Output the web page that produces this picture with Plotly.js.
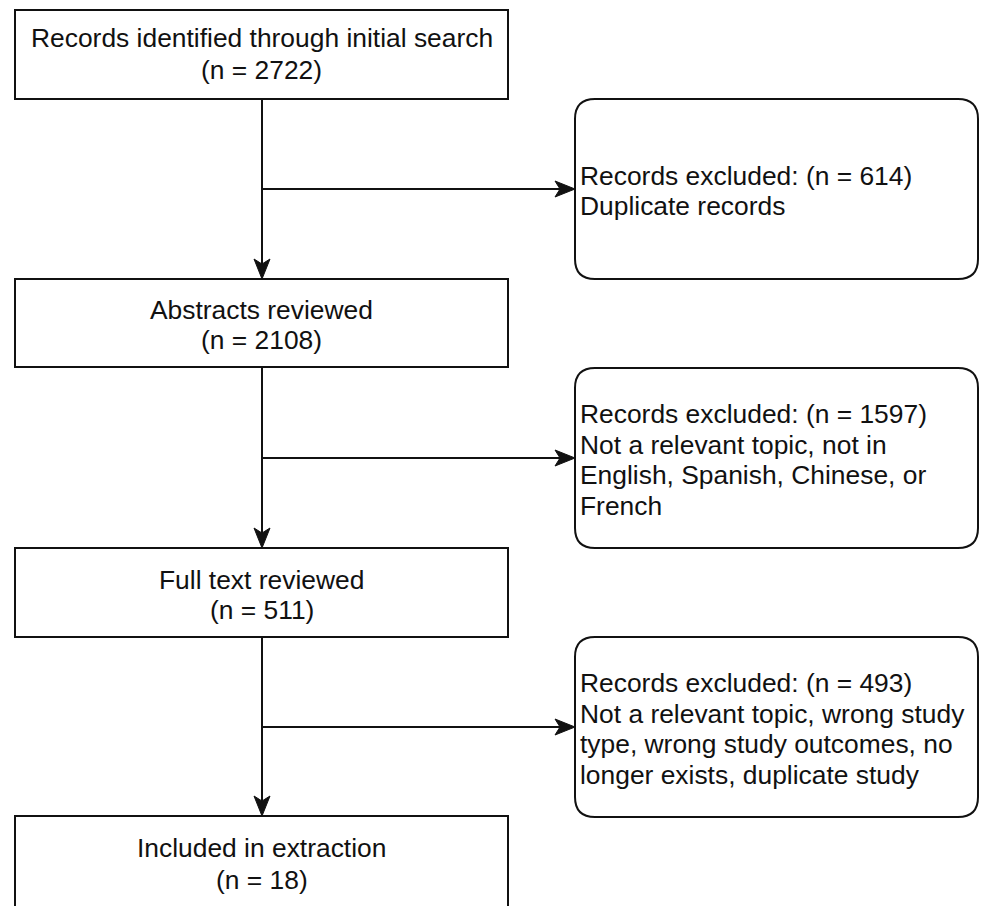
<!DOCTYPE html>
<html>
<head>
<meta charset="utf-8">
<script src="https://cdn.plot.ly/plotly-3.0.1.min.js"></script>
<style>html,body{margin:0;padding:0;background:#fff;}#chart{width:982px;height:906px;}</style>
</head>
<body>
<div id="chart"></div>
<script>
// ---- data ----
const stageLabels = ["Records identified through initial search", "Abstracts reviewed", "Full text reviewed", "Included in extraction"];
const stageCounts = [2722, 2108, 511, 18];
const excludedCounts = [614, 1597, 493];
const excludedReasons = [
  ["Duplicate records"],
  ["Not a relevant topic, not in", "English, Spanish, Chinese, or", "French"],
  ["Not a relevant topic, wrong study", "type, wrong study outcomes, no", "longer exists, duplicate study"]
];

// ---- layout geometry (pixels, y downward) ----
const W = 982, H = 906;
const leftBox = {x0: 15, x1: 508};
const stageY = [[10, 99], [279, 367], [548, 637], [816, 930]];
const stageTextY = [[38, 70], [310, 340], [580, 610], [848, 880]];
const rightBox = {x0: 575, x1: 978, r: 20};
const rightY = [[99, 279], [368, 548], [637, 817]];
const rightTextX = 579;
const lineGap = 30.8;
const spineX = 262;
const HEAD_LEN = 20, HEAD_HALF = 8, HEAD_NOTCH = 5;
const FONT = {family: "Liberation Sans, Arial, Helvetica, sans-serif", size: 26.4, color: "#111"};
const LINE = {color: "#111", width: 2};

const shapes = [];
const annotations = [];

function addText(x, y, txt, anchor) {
  annotations.push({x: x, y: y, xref: "x", yref: "y", text: txt, showarrow: false,
    xanchor: anchor, yanchor: "middle", font: FONT, borderpad: 0, align: anchor});
}

// stage boxes
stageLabels.forEach((lab, i) => {
  const [y0, y1] = stageY[i];
  shapes.push({type: "rect", xref: "x", yref: "y", x0: leftBox.x0, x1: leftBox.x1, y0: y0, y1: y1,
    line: LINE, fillcolor: "#fff", layer: "below"});
  const cx = (leftBox.x0 + leftBox.x1) / 2;
  addText(cx, stageTextY[i][0], lab, "center");
  addText(cx, stageTextY[i][1], "(n = " + stageCounts[i] + ")", "center");
});

function roundRect(x0, y0, x1, y1, r) {
  return `M ${x0 + r},${y0} L ${x1 - r},${y0} Q ${x1},${y0} ${x1},${y0 + r} L ${x1},${y1 - r} Q ${x1},${y1} ${x1 - r},${y1} ` +
         `L ${x0 + r},${y1} Q ${x0},${y1} ${x0},${y1 - r} L ${x0},${y0 + r} Q ${x0},${y0} ${x0 + r},${y0} Z`;
}

// vertical connectors with arrowheads
for (let i = 0; i < stageLabels.length - 1; i++) {
  const yStart = stageY[i][1], yEnd = stageY[i + 1][0];
  shapes.push({type: "line", xref: "x", yref: "y", x0: spineX, x1: spineX, y0: yStart, y1: yEnd - 12, line: LINE});
  shapes.push({type: "path", xref: "x", yref: "y",
    path: `M ${spineX},${yEnd} L ${spineX - HEAD_HALF},${yEnd - HEAD_LEN} L ${spineX},${yEnd - HEAD_LEN + HEAD_NOTCH} L ${spineX + HEAD_HALF},${yEnd - HEAD_LEN} Z`,
    fillcolor: "#111", line: {color: "#111", width: 1}});
}

// exclusion boxes
excludedCounts.forEach((n, i) => {
  const [y0, y1] = rightY[i];
  shapes.push({type: "path", xref: "x", yref: "y", path: roundRect(rightBox.x0, y0, rightBox.x1, y1, rightBox.r),
    line: LINE, fillcolor: "#fff", layer: "below"});
  const lines = ["Records excluded: (n = " + n + ")"].concat(excludedReasons[i]);
  const cy = (y0 + y1) / 2 + 2;
  const top = cy - (lines.length - 1) * lineGap / 2;
  lines.forEach((t, k) => addText(rightTextX, top + k * lineGap, t, "left"));
  // horizontal arrow
  const ay = (y0 + y1) / 2, ax = rightBox.x0;
  shapes.push({type: "line", xref: "x", yref: "y", x0: spineX, x1: ax - 12, y0: ay, y1: ay, line: LINE});
  shapes.push({type: "path", xref: "x", yref: "y",
    path: `M ${ax},${ay} L ${ax - HEAD_LEN},${ay - HEAD_HALF} L ${ax - HEAD_LEN + HEAD_NOTCH},${ay} L ${ax - HEAD_LEN},${ay + HEAD_HALF} Z`,
    fillcolor: "#111", line: {color: "#111", width: 1}});
});

const layout = {
  width: W, height: H,
  margin: {l: 0, r: 0, t: 0, b: 0},
  paper_bgcolor: "#fff", plot_bgcolor: "#fff",
  xaxis: {range: [0, W], visible: false, fixedrange: true},
  yaxis: {range: [H, 0], visible: false, fixedrange: true},
  showlegend: false,
  shapes: shapes,
  annotations: annotations
};

Plotly.newPlot("chart", [], layout, {staticPlot: true});
</script>
</body>
</html>
